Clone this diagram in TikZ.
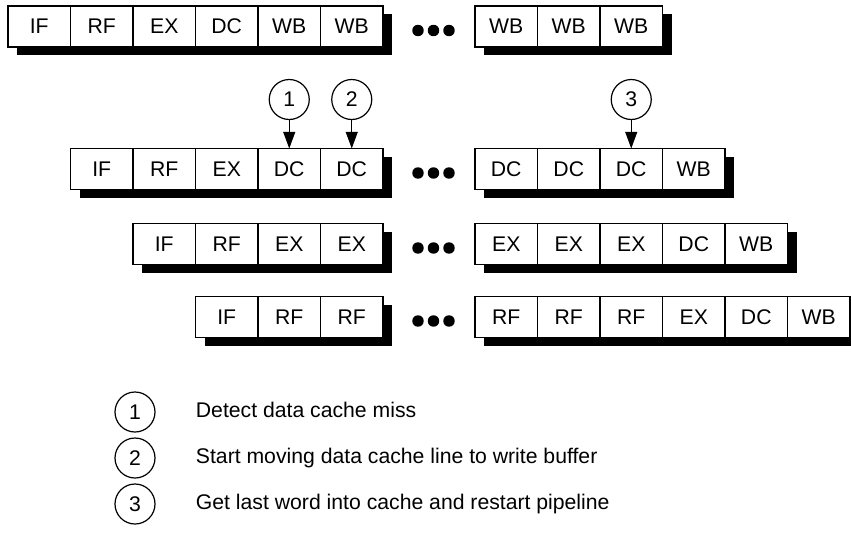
\documentclass[tikz,border=0pt]{standalone}
\usepackage{fontspec}
\setmainfont{Liberation Sans}
\usetikzlibrary{positioning}
\usetikzlibrary{shadows}
\usetikzlibrary{arrows.meta}

\begin{document}
\begin{tikzpicture}[x=0.75pt, y=-0.75pt,
        every node/.style={font=\fontsize{15.9}{18}\selectfont},
        cell/.style={draw, fill=white, line width=0.9pt, outer sep=0pt, inner sep=0pt,
            minimum width=46.875pt, minimum height=30.75pt,
            drop shadow={shadow xshift=6.75pt, shadow yshift=-6pt, fill=black, opacity=1}},
        n/.style={circle, draw, line width=0.9pt, outer sep=0pt, inner sep=0pt, minimum size=30pt},
        note/.style={inner sep=0pt, text height=11pt, text depth=3.5pt},
        pin/.style={line width=0.9pt, -{Triangle[width=9pt, length=12.5pt]}}]
        \useasboundingbox (0,0) rectangle (851,536);

        % first instruction
        \node[cell] (a1) at (39.25, 26.5) {IF};
        \node[cell, right=0pt of a1] (a2) {RF};
        \node[cell, right=0pt of a2] (a3) {EX};
        \node[cell, right=0pt of a3] (a4) {DC};
        \node[cell, right=0pt of a4] (a5) {WB};
        \node[cell, right=0pt of a5] (a6) {WB};
        \node[cell] (a7) at (506.25, 26.5) {WB};
        \node[cell, right=0pt of a7] (a8) {WB};
        \node[cell, right=0pt of a8] (a9) {WB};

        % second instruction
        \node[cell] (b1) at (101.75, 169) {IF};
        \node[cell, right=0pt of b1] (b2) {RF};
        \node[cell, right=0pt of b2] (b3) {EX};
        \node[cell, right=0pt of b3] (b4) {DC};
        \node[cell, right=0pt of b4] (b5) {DC};
        \node[cell] (b6) at (506.25, 169) {DC};
        \node[cell, right=0pt of b6] (b7) {DC};
        \node[cell, right=0pt of b7] (b8) {DC};
        \node[cell, right=0pt of b8] (b9) {WB};

        % third instruction
        \node[cell] (c1) at (164.25, 244) {IF};
        \node[cell, right=0pt of c1] (c2) {RF};
        \node[cell, right=0pt of c2] (c3) {EX};
        \node[cell, right=0pt of c3] (c4) {EX};
        \node[cell] (c5) at (506.25, 244) {EX};
        \node[cell, right=0pt of c5] (c6) {EX};
        \node[cell, right=0pt of c6] (c7) {EX};
        \node[cell, right=0pt of c7] (c8) {DC};
        \node[cell, right=0pt of c8] (c9) {WB};

        % fourth instruction
        \node[cell] (d1) at (226.75, 317) {IF};
        \node[cell, right=0pt of d1] (d2) {RF};
        \node[cell, right=0pt of d2] (d3) {RF};
        \node[cell] (d4) at (506.25, 317) {RF};
        \node[cell, right=0pt of d4] (d5) {RF};
        \node[cell, right=0pt of d5] (d6) {RF};
        \node[cell, right=0pt of d6] (d7) {EX};
        \node[cell, right=0pt of d7] (d8) {DC};
        \node[cell, right=0pt of d8] (d9) {WB};

        % gaps
        \fill (418, 30.5) circle[radius=4.3pt] (433.5, 30.5) circle[radius=4.3pt] (449, 30.5) circle[radius=4.3pt];
        \fill (418, 173) circle[radius=4.3pt] (433.5, 173) circle[radius=4.3pt] (449, 173) circle[radius=4.3pt];
        \fill (418, 248) circle[radius=4.3pt] (433.5, 248) circle[radius=4.3pt] (449, 248) circle[radius=4.3pt];
        \fill (418, 321) circle[radius=4.3pt] (433.5, 321) circle[radius=4.3pt] (449, 321) circle[radius=4.3pt];

        \node[n, above=21.75pt of b4] (m1) {1};
        \node[n, above=21.75pt of b5] (m2) {2};
        \node[n, above=21.75pt of b8] (m3) {3};
        \draw[pin] (m1) -- (b4);
        \draw[pin] (m2) -- (b5);
        \draw[pin] (m3) -- (b8);

        % legend
        \node[n] (k1) at (135, 412) {1};
        \node[n] (k2) at (135, 458) {2};
        \node[n] (k3) at (135, 504) {3};
        \node[note, right=30.5pt of k1] (t1) {Detect data cache miss};
        \node[note, right=30.5pt of k2] (t2) {Start moving data cache line to write buffer};
        \node[note, right=30.5pt of k3] (t3) {Get last word into cache and restart pipeline};
    \end{tikzpicture}
\end{document}
